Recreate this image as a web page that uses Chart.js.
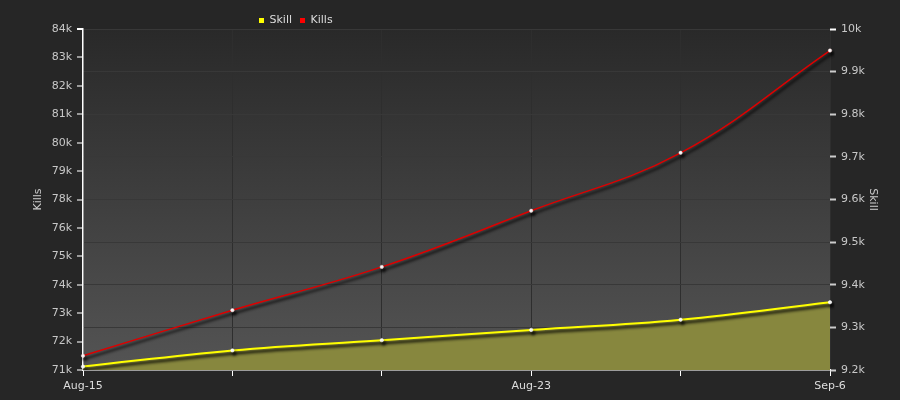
<!DOCTYPE html>
<html>
<head>
<meta charset="utf-8">
<script src="https://cdn.jsdelivr.net/npm/chart.js@4.4.1/dist/chart.umd.min.js"></script>
<style>
  html, body { margin: 0; padding: 0; background: #262626; }
  #wrap { width: 900px; height: 400px; }
</style>
</head>
<body>
<div id="wrap"><canvas id="c" width="900" height="400"></canvas></div>
<script>
const categories = ['Aug-15', '', '', 'Aug-23', '', 'Sep-6'];
const skillValues = [9208, 9246, 9270, 9294, 9318, 9359];
const killsValues = [71540, 73280, 74930, 77070, 79280, 83180];
const killsTickLabels = ['71k','72k','73k','74k','75k','76k','78k','79k','80k','81k','82k','83k','84k'];
const skillTickLabels = ['9.2k','9.3k','9.4k','9.5k','9.6k','9.7k','9.8k','9.9k','10k'];
const killsRange = [71000, 84000];
const skillRange = [9200, 10000];

const FONT = { family: 'DejaVu Sans', size: 11 };

function evenTicks(labels, range) {
  return function (scale) {
    const n = labels.length;
    scale.ticks = labels.map((_, i) => ({ value: range[0] + i * (range[1] - range[0]) / (n - 1) }));
  };
}

const bgPlugin = {
  id: 'bg',
  beforeDraw(chart) {
    const { ctx, chartArea: a } = chart;
    ctx.save();
    ctx.fillStyle = '#262626';
    ctx.fillRect(0, 0, chart.width, chart.height);
    const g = ctx.createLinearGradient(0, a.top, 0, a.bottom);
    g.addColorStop(0, '#292929');
    g.addColorStop(1, '#545454');
    ctx.fillStyle = g;
    ctx.fillRect(a.left, a.top, a.right - a.left, a.bottom - a.top);
    ctx.restore();
  }
};

const shadowPlugin = {
  id: 'lineShadow',
  beforeDatasetDraw(chart) {
    const ctx = chart.ctx;
    ctx.save();
    ctx.shadowColor = 'rgba(0,0,0,1)';
    ctx.shadowBlur = 3;
    ctx.shadowOffsetX = 2;
    ctx.shadowOffsetY = 3;
  },
  afterDatasetDraw(chart) {
    chart.ctx.restore();
  }
};

const legendPlace = {
  id: 'legendPlace',
  afterLayout(chart) {
    const lg = chart.legend;
    if (!lg) return;
    const w = lg.right - lg.left;
    lg.left = 251;
    lg.right = lg.left + w;
    lg.top += 7;
    lg.bottom += 7;
  }
};

new Chart(document.getElementById('c'), {
  type: 'line',
  data: {
    labels: categories,
    datasets: [
      {
        label: 'Skill',
        data: skillValues,
        yAxisID: 'ySkill',
        borderColor: '#ffff00',
        backgroundColor: '#ffff00',
        borderWidth: 2,
        tension: 0.4,
        fill: { target: 'start', above: '#87873e' },
        pointRadius: 1.7,
        pointBorderWidth: 0.5,
        pointBackgroundColor: '#ffffff',
        pointBorderColor: '#ffffff'
      },
      {
        label: 'Kills',
        data: killsValues,
        yAxisID: 'yKills',
        borderColor: '#dd0000',
        backgroundColor: '#ff0000',
        borderWidth: 1.5,
        tension: 0.4,
        fill: false,
        pointRadius: 1.7,
        pointBorderWidth: 0.5,
        pointBackgroundColor: '#ffffff',
        pointBorderColor: '#ffdddd'
      }
    ]
  },
  options: {
    responsive: false,
    devicePixelRatio: 1,
    animation: false,
    layout: { padding: { top: 0, left: 0, right: 0, bottom: 0 } },
    plugins: {
      legend: {
        position: 'top',
        align: 'start',
        labels: {
          color: '#dddddd',
          font: FONT,
          boxWidth: 5,
          boxHeight: 5,
          padding: 8,
          generateLabels(chart) {
            const items = Chart.defaults.plugins.legend.labels.generateLabels(chart);
            items.forEach((it) => { it.strokeStyle = it.fillStyle; it.lineWidth = 0; });
            return items;
          }
        }
      },
      tooltip: { enabled: false }
    },
    scales: {
      x: {
        type: 'category',
        afterFit(s) { s.height = 30; },
        grid: {
          color: '#2e2e2e',
          tickColor: '#ffffff',
          tickLength: 6,
          drawOnChartArea: true
        },
        border: { color: '#ffffff', width: 1.5 },
        ticks: { color: '#dddddd', font: FONT, padding: 4, autoSkip: false, maxRotation: 0 }
      },
      yKills: {
        type: 'linear',
        position: 'left',
        min: killsRange[0],
        max: killsRange[1],
        afterBuildTicks: evenTicks(killsTickLabels, killsRange),
        afterFit(s) { s.width = 83; },
        grid: {
          drawOnChartArea: false,
          tickLength: 6,
          tickColor: (c) => (c.index === killsTickLabels.length - 1 ? '#ffffff' : '#999999'),
          lineWidth: 2
        },
        border: { color: '#ffffff', width: 1.5 },
        ticks: {
          color: '#c8c8c8',
          font: FONT,
          padding: 5,
          callback: (v, i) => killsTickLabels[i]
        },
        title: {
          display: true,
          text: 'Kills',
          color: '#cccccc',
          font: FONT,
          padding: { top: 32, bottom: 0 }
        }
      },
      ySkill: {
        type: 'linear',
        position: 'right',
        min: skillRange[0],
        max: skillRange[1],
        afterBuildTicks: evenTicks(skillTickLabels, skillRange),
        afterFit(s) { s.width = 70; },
        grid: {
          drawOnChartArea: true,
          color: '#383838',
          tickLength: 6,
          tickColor: (c) => (c.index === skillTickLabels.length - 1 ? '#ffffff' : '#cccccc'),
          tickWidth: 2
        },
        border: { display: false },
        ticks: {
          color: '#c8c8c8',
          font: FONT,
          padding: 5,
          callback: (v, i) => skillTickLabels[i]
        },
        title: {
          display: true,
          text: 'Skill',
          color: '#cccccc',
          font: FONT,
          padding: { top: 21, bottom: 0 }
        }
      }
    }
  },
  plugins: [bgPlugin, shadowPlugin, legendPlace]
});
</script>
</body>
</html>
